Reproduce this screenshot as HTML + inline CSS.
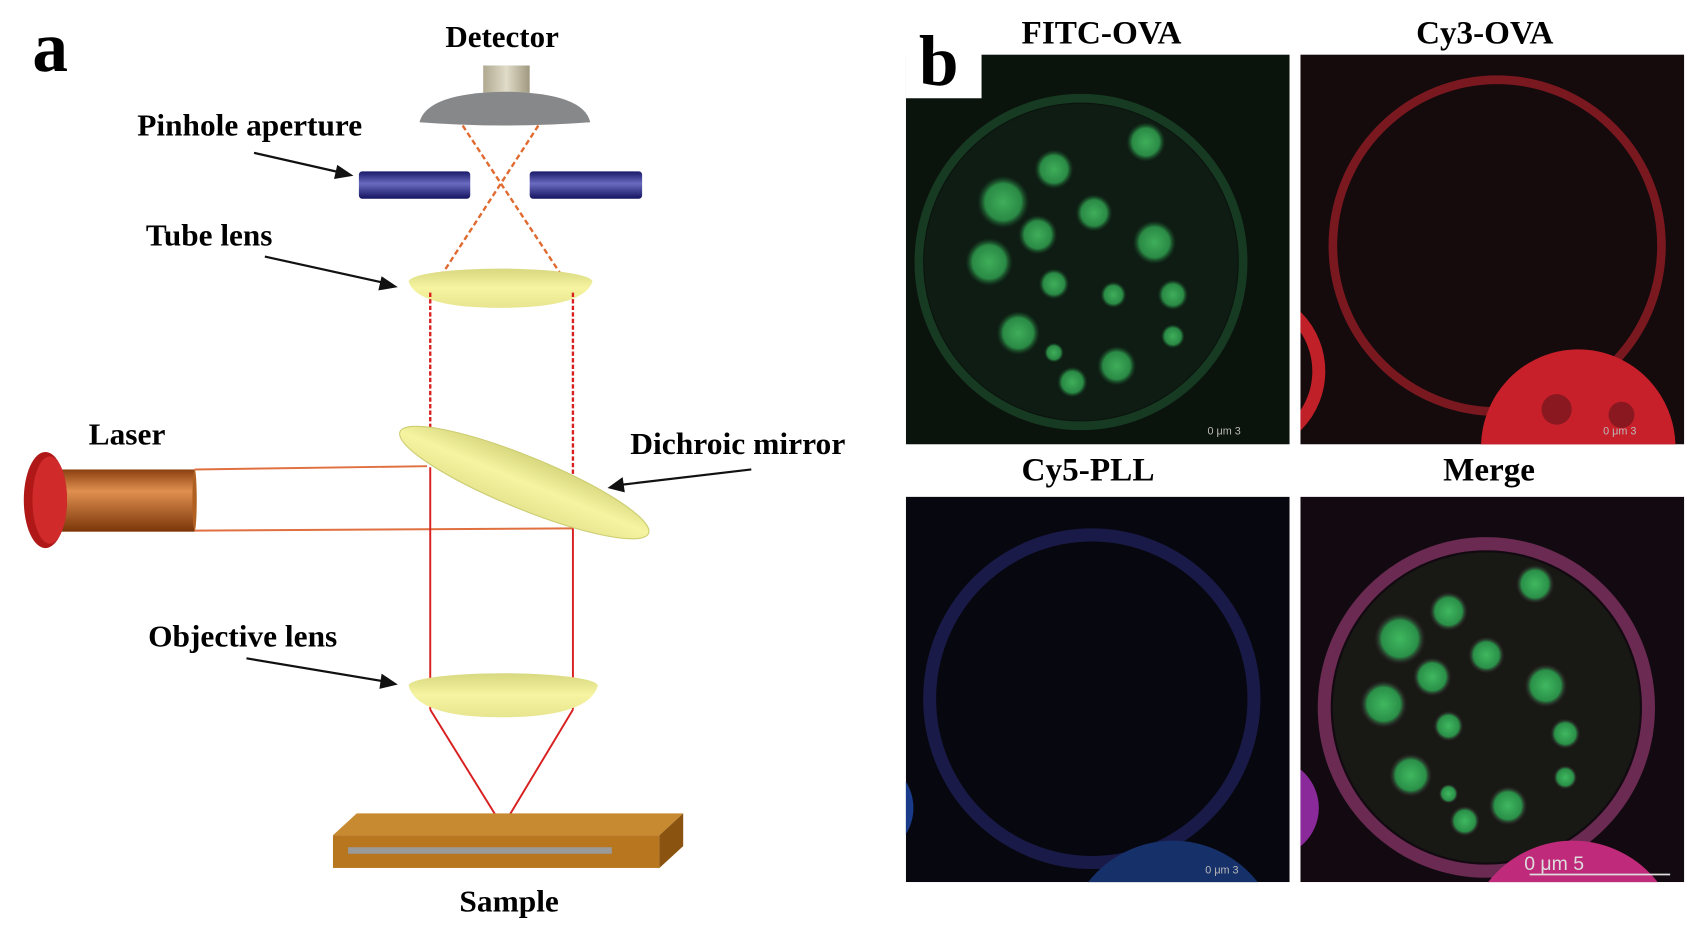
<!DOCTYPE html>
<html><head><meta charset="utf-8"><style>
html,body{margin:0;padding:0;background:#fff;overflow:hidden;width:1695px;height:928px;}
svg{display:block}
text{font-family:"Liberation Serif",serif;font-weight:bold;}
</style></head><body>
<svg width="1695" height="928" viewBox="0 0 1568 850" preserveAspectRatio="none" xmlns="http://www.w3.org/2000/svg">
<defs>
<linearGradient id="bar" x1="0" y1="0" x2="0" y2="1"><stop offset="0" stop-color="#1a1a6a"/><stop offset="0.45" stop-color="#6a6ac0"/><stop offset="1" stop-color="#141460"/></linearGradient>
<linearGradient id="cop" x1="0" y1="0" x2="0" y2="1"><stop offset="0" stop-color="#8a4010"/><stop offset="0.35" stop-color="#e09050"/><stop offset="1" stop-color="#7a3508"/></linearGradient>
<linearGradient id="lens" x1="0" y1="0" x2="0" y2="1"><stop offset="0" stop-color="#d8d880"/><stop offset="0.5" stop-color="#f6f4a0"/><stop offset="1" stop-color="#e8e590"/></linearGradient>
<linearGradient id="cyl" x1="0" y1="0" x2="1" y2="0"><stop offset="0" stop-color="#b0a890"/><stop offset="0.5" stop-color="#e0dcc8"/><stop offset="1" stop-color="#a09880"/></linearGradient>
<radialGradient id="gdot"><stop offset="0" stop-color="#3fae5a"/><stop offset="0.7" stop-color="#2a8a45"/><stop offset="1" stop-color="#1a4a28" stop-opacity="0"/></radialGradient>
<radialGradient id="gdot2"><stop offset="0" stop-color="#40b860"/><stop offset="0.7" stop-color="#2a9048"/><stop offset="1" stop-color="#3a2030" stop-opacity="0"/></radialGradient>
<clipPath id="c1"><rect x="838" y="50" width="355" height="357"/></clipPath>
<clipPath id="c2"><rect x="1203" y="50" width="355" height="357"/></clipPath>
<clipPath id="c3"><rect x="838" y="455" width="355" height="353"/></clipPath>
<clipPath id="c4"><rect x="1203" y="455" width="355" height="353"/></clipPath>
</defs>
<text x="30" y="65" font-size="66">a</text>
<text x="412" y="43" font-size="28" textLength="105" lengthAdjust="spacingAndGlyphs">Detector</text>
<rect x="447" y="60" width="43" height="25" fill="url(#cyl)"/>
<path d="M388,112 Q395,85 467,84 Q540,85 546,112 Q467,118 388,112Z" fill="#86888a"/>
<g stroke="#e06a30" stroke-width="2.2" stroke-dasharray="5,3" fill="none">
<line x1="428" y1="115" x2="530" y2="268"/>
<line x1="498" y1="115" x2="398" y2="268"/>
</g>
<text x="127" y="124" font-size="28" textLength="208" lengthAdjust="spacingAndGlyphs">Pinhole aperture</text>
<line x1="235" y1="140" x2="315" y2="158" stroke="#111" stroke-width="2"/>
<polygon points="327,161 312,151 309,164" fill="#111"/>
<rect x="332" y="157" width="103" height="25" rx="3" fill="url(#bar)"/>
<rect x="490" y="157" width="104" height="25" rx="3" fill="url(#bar)"/>
<text x="135" y="225" font-size="28" textLength="117" lengthAdjust="spacingAndGlyphs">Tube lens</text>
<line x1="245" y1="235" x2="355" y2="259" stroke="#111" stroke-width="2"/>
<polygon points="368,263 353,253 350,266" fill="#111"/>
<path d="M378,258 A85,12 0 0 1 548,258 Q540,282 463,282 Q386,282 378,258Z" fill="url(#lens)"/>
<g stroke="#d82020" stroke-width="2.2" stroke-dasharray="4,2"><line x1="398" y1="268" x2="398" y2="400"/><line x1="530" y1="268" x2="530" y2="470"/></g>
<text x="82" y="407" font-size="28" textLength="71" lengthAdjust="spacingAndGlyphs">Laser</text>
<rect x="40" y="430" width="140" height="57" fill="url(#cop)"/>
<ellipse cx="180" cy="458" rx="2" ry="28" fill="#b06020"/>
<ellipse cx="42" cy="458" rx="20" ry="44" fill="#b01818"/>
<ellipse cx="46" cy="458" rx="16" ry="40" fill="#d02a2a"/>
<line x1="180" y1="430" x2="395" y2="427" stroke="#e07040" stroke-width="1.8"/>
<line x1="180" y1="486" x2="530" y2="484" stroke="#e07040" stroke-width="1.8"/>
<ellipse cx="485" cy="442" rx="124" ry="24" transform="rotate(22 485 442)" fill="url(#lens)" stroke="#cccc70"/>
<g stroke="#d82020" stroke-width="1.8"><line x1="398" y1="428" x2="398" y2="650"/><line x1="530" y1="484" x2="530" y2="650"/><line x1="398" y1="650" x2="465" y2="757"/><line x1="530" y1="650" x2="465" y2="757"/></g>
<text x="583" y="416" font-size="28" textLength="199" lengthAdjust="spacingAndGlyphs">Dichroic mirror</text>
<line x1="695" y1="430" x2="575" y2="444" stroke="#111" stroke-width="2"/>
<polygon points="562,447 576,437 578,451" fill="#111"/>
<text x="137" y="592" font-size="28" textLength="175" lengthAdjust="spacingAndGlyphs">Objective lens</text>
<line x1="228" y1="603" x2="355" y2="624" stroke="#111" stroke-width="2"/>
<polygon points="368,627 353,617 351,631" fill="#111"/>
<path d="M378,628 A85,11 0 0 1 553,628 Q545,657 463,657 Q386,657 378,628Z" fill="url(#lens)"/>
<polygon points="308,765 330,745 632,745 610,765" fill="#c88a30"/>
<rect x="308" y="765" width="302" height="30" fill="#b8761e"/>
<polygon points="610,765 632,745 632,775 610,795" fill="#8a5410"/>
<rect x="322" y="776" width="244" height="6" fill="#9a9a9a"/>
<text x="425" y="835" font-size="28" textLength="92" lengthAdjust="spacingAndGlyphs">Sample</text>

<g clip-path="url(#c1)">
<rect x="838" y="50" width="355" height="357" fill="#0b130d"/>
<circle cx="1000" cy="240" r="150" fill="none" stroke="#163a22" stroke-width="8"/>
<circle cx="1000" cy="240" r="145" fill="#0e1c13"/>
<g fill="url(#gdot)">
<circle cx="928" cy="185" r="24"/><circle cx="975" cy="155" r="18"/><circle cx="1060" cy="130" r="18"/><circle cx="1012" cy="195" r="17"/><circle cx="960" cy="215" r="18"/><circle cx="915" cy="240" r="22"/><circle cx="1068" cy="222" r="20"/><circle cx="975" cy="260" r="14"/><circle cx="1085" cy="270" r="14"/><circle cx="942" cy="305" r="20"/><circle cx="975" cy="323" r="9"/><circle cx="1033" cy="335" r="18"/><circle cx="992" cy="350" r="14"/><circle cx="1085" cy="308" r="11"/><circle cx="1030" cy="270" r="12"/>
</g></g>
<g clip-path="url(#c2)">
<rect x="1203" y="50" width="355" height="357" fill="#150a0c"/>
<circle cx="1385" cy="225" r="152" fill="none" stroke="#7a1820" stroke-width="8"/>
<circle cx="1150" cy="340" r="70" fill="none" stroke="#c02028" stroke-width="12"/>
<circle cx="1460" cy="410" r="90" fill="#c8202a"/>
<circle cx="1440" cy="375" r="14" fill="#8a1820"/><circle cx="1500" cy="380" r="12" fill="#8a1820"/>
</g>
<g clip-path="url(#c3)">
<rect x="838" y="455" width="355" height="353" fill="#07070f"/>
<circle cx="1010" cy="640" r="150" fill="none" stroke="#1a1a48" stroke-width="12"/>
<circle cx="800" cy="740" r="45" fill="#1a3a8a"/>
<circle cx="1085" cy="870" r="100" fill="#16306a"/>
</g>
<g clip-path="url(#c4)">
<rect x="1203" y="455" width="355" height="353" fill="#120a10"/>
<circle cx="1375" cy="648" r="150" fill="none" stroke="#6a2a52" stroke-width="12"/>
<circle cx="1375" cy="648" r="142" fill="#181814"/>
<circle cx="1455" cy="870" r="100" fill="#c02a7a"/>
<circle cx="1175" cy="740" r="45" fill="#8a2a9a"/>
<g fill="url(#gdot2)">
<circle cx="1295" cy="585" r="24"/><circle cx="1340" cy="560" r="18"/><circle cx="1420" cy="535" r="18"/><circle cx="1375" cy="600" r="17"/><circle cx="1325" cy="620" r="18"/><circle cx="1280" cy="645" r="22"/><circle cx="1430" cy="628" r="20"/><circle cx="1340" cy="665" r="14"/><circle cx="1448" cy="672" r="14"/><circle cx="1305" cy="710" r="20"/><circle cx="1340" cy="727" r="9"/><circle cx="1395" cy="738" r="18"/><circle cx="1355" cy="752" r="14"/><circle cx="1448" cy="712" r="11"/>
</g></g>
<rect x="838" y="20" width="70" height="70" fill="#fff"/>
<text x="850" y="78" font-size="66">b</text>
<text x="945" y="40" font-size="30" textLength="148" lengthAdjust="spacingAndGlyphs">FITC-OVA</text>
<text x="1310" y="40" font-size="30" textLength="127" lengthAdjust="spacingAndGlyphs">Cy3-OVA</text>
<text x="945" y="440" font-size="30" textLength="123" lengthAdjust="spacingAndGlyphs">Cy5-PLL</text>
<text x="1335" y="440" font-size="30" textLength="85" lengthAdjust="spacingAndGlyphs">Merge</text>
<g fill="#bbb" font-size="10">
<text x="1117" y="398" style="font-weight:normal;font-family:'Liberation Sans'">0    μm    3</text>
<text x="1483" y="398" style="font-weight:normal;font-family:'Liberation Sans'">0    μm    3</text>
<text x="1115" y="800" style="font-weight:normal;font-family:'Liberation Sans'">0    μm    3</text>
</g>
<text x="1410" y="797" font-size="18" fill="#ddd" style="font-weight:normal;font-family:'Liberation Sans'">0     μm     5</text>
<line x1="1415" y1="801" x2="1545" y2="801" stroke="#ddd" stroke-width="1.5"/>
</svg>
</body></html>
